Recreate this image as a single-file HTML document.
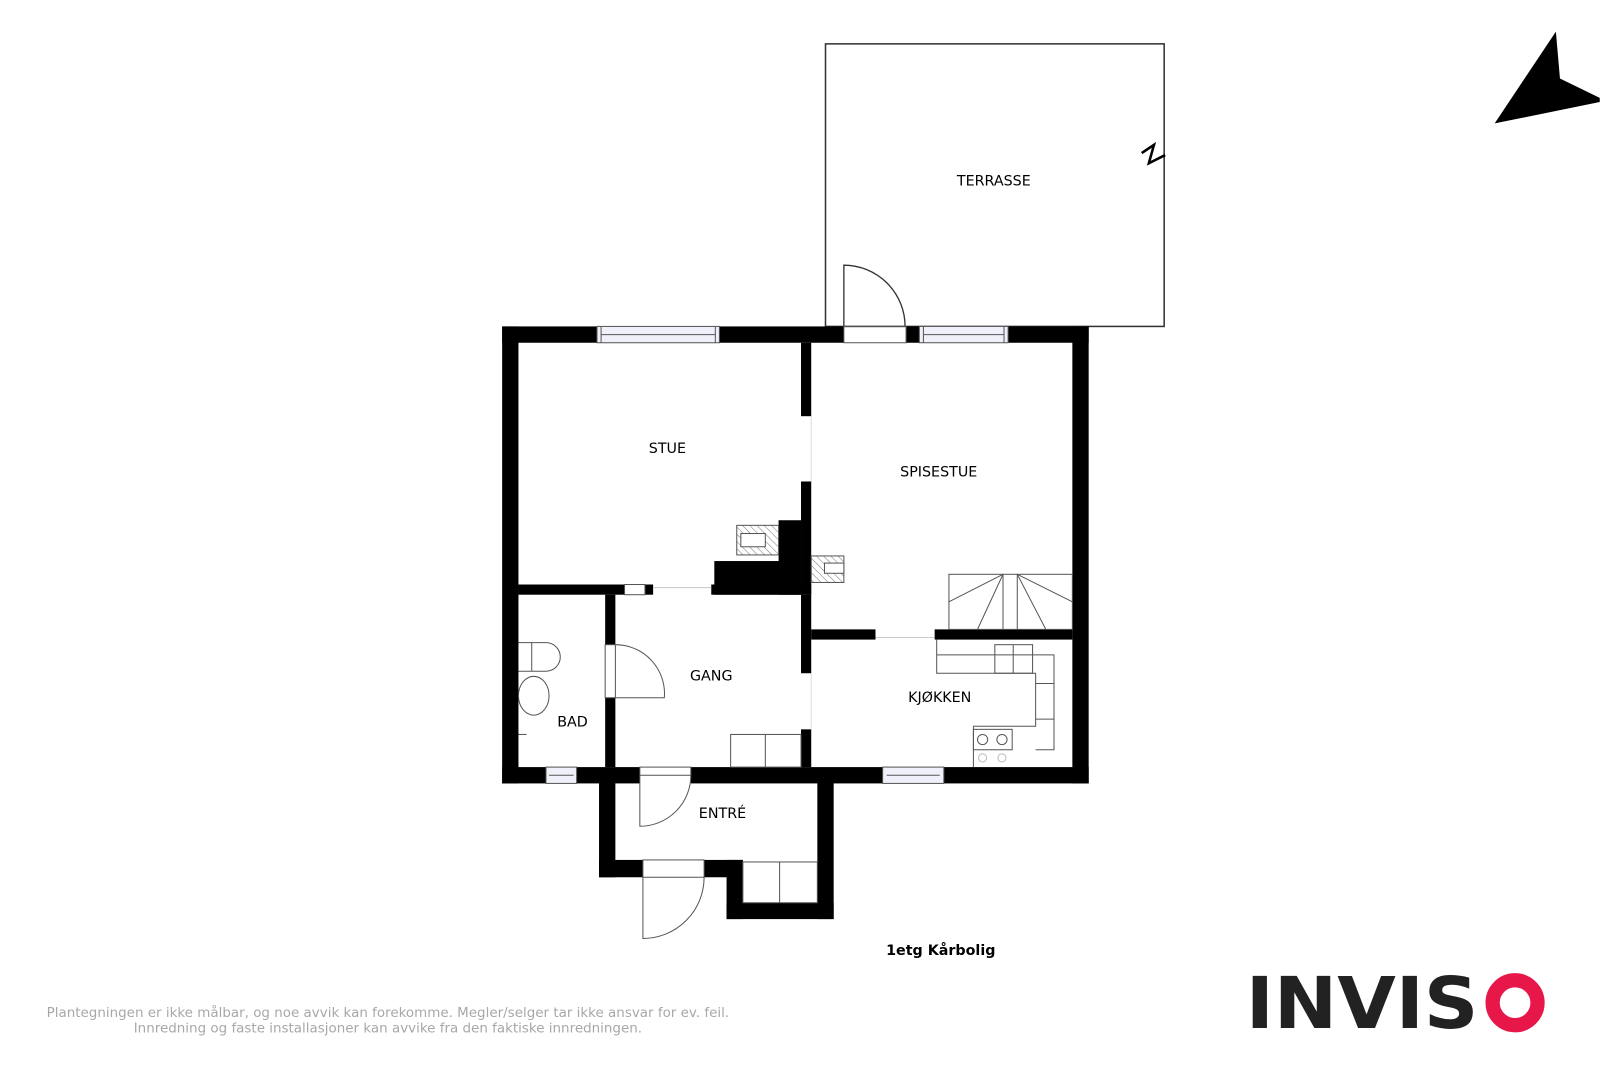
<!DOCTYPE html>
<html><head><meta charset="utf-8"><style>
html,body{margin:0;padding:0;background:#fff;}
svg{display:block;}
text{font-family:"DejaVu Sans","Liberation Sans",sans-serif;}
</style></head><body>
<svg width="1600" height="1067" viewBox="0 0 1568 1046" xmlns="http://www.w3.org/2000/svg">
<defs>
<pattern id="h" width="5" height="5" patternUnits="userSpaceOnUse" patternTransform="rotate(-45)"><line x1="0" y1="0" x2="0" y2="5" stroke="#777" stroke-width="1"/></pattern>
</defs>
<rect x="809" y="43" width="332" height="277" fill="none" stroke="#333" stroke-width="1.5"/>
<polyline points="1119,150 1131,142 1126,160 1142,152" fill="none" stroke="#000" stroke-width="2.5"/>
<text x="974" y="182" font-size="14" text-anchor="middle">TERRASSE</text>
<path d="M827,320 V260 A60,60 0 0 1 887,320" fill="none" stroke="#333" stroke-width="1.3"/>
<polygon points="1525,31 1529,77 1568,96 1568,100 1465,121" fill="#000"/>

<g fill="#000">
<rect x="492" y="320" width="93" height="16"/>
<rect x="705" y="320" width="122" height="16"/>
<rect x="888" y="320" width="13" height="16"/>
<rect x="988" y="320" width="79" height="16"/>
<rect x="492" y="320" width="16" height="448"/>
<rect x="1051" y="320" width="16" height="448"/>
<rect x="492" y="752" width="43" height="16"/>
<rect x="565" y="752" width="62" height="16"/>
<rect x="677" y="752" width="188" height="16"/>
<rect x="925" y="752" width="142" height="16"/>
<rect x="785" y="336" width="10" height="72"/>
<rect x="785" y="472" width="10" height="111"/>
<rect x="763" y="510" width="22" height="73"/>
<rect x="700" y="550" width="85" height="33"/>
<rect x="508" y="573" width="104" height="10"/>
<rect x="632" y="573" width="8" height="10"/>
<rect x="697" y="573" width="98" height="10"/>
<rect x="593" y="583" width="10" height="49"/>
<rect x="593" y="684" width="10" height="68"/>
<rect x="795" y="617" width="63" height="10"/>
<rect x="916" y="617" width="135" height="10"/>
<rect x="785" y="583" width="10" height="77"/>
<rect x="785" y="715" width="10" height="37"/>
<rect x="587" y="760" width="16" height="100"/>
<rect x="801" y="760" width="16" height="141"/>
<rect x="587" y="843" width="43" height="17"/>
<rect x="690" y="843" width="38" height="17"/>
<rect x="712" y="843" width="16" height="58"/>
<rect x="712" y="885" width="105" height="16"/>
</g>

<g fill="none" stroke="#555" stroke-width="1">
<rect x="585" y="320" width="120" height="16" fill="#f0f0fa"/><line x1="589" y1="328" x2="701" y2="328"/><line x1="589" y1="320" x2="589" y2="336"/><line x1="701" y1="320" x2="701" y2="336"/>
<rect x="901" y="320" width="87" height="16" fill="#f0f0fa"/><line x1="905" y1="328" x2="984" y2="328"/><line x1="905" y1="320" x2="905" y2="336"/><line x1="984" y1="320" x2="984" y2="336"/>
<rect x="827" y="320" width="61" height="16"/>
<rect x="535" y="752" width="30" height="16" fill="#f0f0fa"/><line x1="538" y1="760" x2="562" y2="760"/>
<rect x="865" y="752" width="60" height="16" fill="#f0f0fa"/><line x1="869" y1="760" x2="921" y2="760"/>
<rect x="612" y="573" width="20" height="10"/>
<line x1="640" y1="576" x2="697" y2="576" stroke="#ccc"/>
<line x1="795" y1="408" x2="795" y2="472" stroke="#ddd"/>
<line x1="858" y1="625" x2="916" y2="625" stroke="#ccc"/>
<line x1="795" y1="660" x2="795" y2="715" stroke="#ddd"/>
<rect x="593" y="632" width="10" height="52"/>
<path d="M603,632 A48,48 0 0 1 651,684 H603" />
<rect x="627" y="752" width="50" height="8"/>
<path d="M627,760 V810 A50,50 0 0 0 677,760"/>
<rect x="630" y="843" width="60" height="17"/>
<path d="M630,860 V920 A60,60 0 0 0 690,860"/>
<rect x="716" y="720" width="69" height="32"/><line x1="750" y1="720" x2="750" y2="752"/>
<rect x="728" y="845" width="73" height="40"/><line x1="764" y1="845" x2="764" y2="885"/>
<rect x="722" y="515" width="41" height="29" fill="url(#h)"/><rect x="726" y="523" width="24" height="13" fill="#fff"/>
<rect x="795" y="545" width="32" height="26" fill="url(#h)"/><rect x="808" y="552" width="19" height="10" fill="#fff"/>
<rect x="930" y="563" width="121" height="54"/>
<line x1="983" y1="563" x2="983" y2="617"/><line x1="997" y1="563" x2="997" y2="617"/>
<line x1="930" y1="590" x2="983" y2="563"/><line x1="958" y1="617" x2="983" y2="563"/>
<line x1="997" y1="563" x2="1025" y2="617"/><line x1="997" y1="563" x2="1051" y2="590"/>
<polyline points="918,627 918,660 1015,660 1015,712 954,712 954,752"/>
<polyline points="918,642 1033,642 1033,735 1015,735"/>
<line x1="1015" y1="670" x2="1033" y2="670"/><line x1="1015" y1="705" x2="1033" y2="705"/>
<rect x="975" y="632" width="37" height="28"/><line x1="993" y1="632" x2="993" y2="660"/>
<rect x="954" y="715" width="38" height="20"/>
<circle cx="963" cy="725" r="5"/><circle cx="982" cy="725" r="5"/>
<circle cx="963" cy="743" r="4" stroke="#bbb"/><circle cx="982" cy="743" r="4" stroke="#bbb"/>
<path d="M508,630 H535 A14,14 0 0 1 535,658 H508"/><line x1="521" y1="630" x2="521" y2="658"/>
<ellipse cx="523" cy="682" rx="15" ry="19"/>
<line x1="508" y1="720" x2="516" y2="720"/>
</g>

<g font-size="14" text-anchor="middle" fill="#000">
<text x="654" y="444">STUE</text>
<text x="920" y="467">SPISESTUE</text>
<text x="697" y="667">GANG</text>
<text x="921" y="688">KJØKKEN</text>
<text x="561" y="712">BAD</text>
<text x="708" y="802">ENTRÉ</text>
<text x="922" y="936" font-weight="bold" font-size="14">1etg Kårbolig</text>
</g>
<g font-size="13.2" fill="#a8a8a8" text-anchor="middle">
<text x="380" y="997">Plantegningen er ikke målbar, og noe avvik kan forekomme. Megler/selger tar ikke ansvar for ev. feil.</text>
<text x="380" y="1012">Innredning og faste installasjoner kan avvike fra den faktiske innredningen.</text>
</g>
<text x="1221" y="1008" font-size="70" font-weight="bold" fill="#222" textLength="228" lengthAdjust="spacingAndGlyphs">INVIS</text>
<circle cx="1485" cy="983" r="22" fill="none" stroke="#e8174a" stroke-width="14"/>
</svg>
</body></html>
